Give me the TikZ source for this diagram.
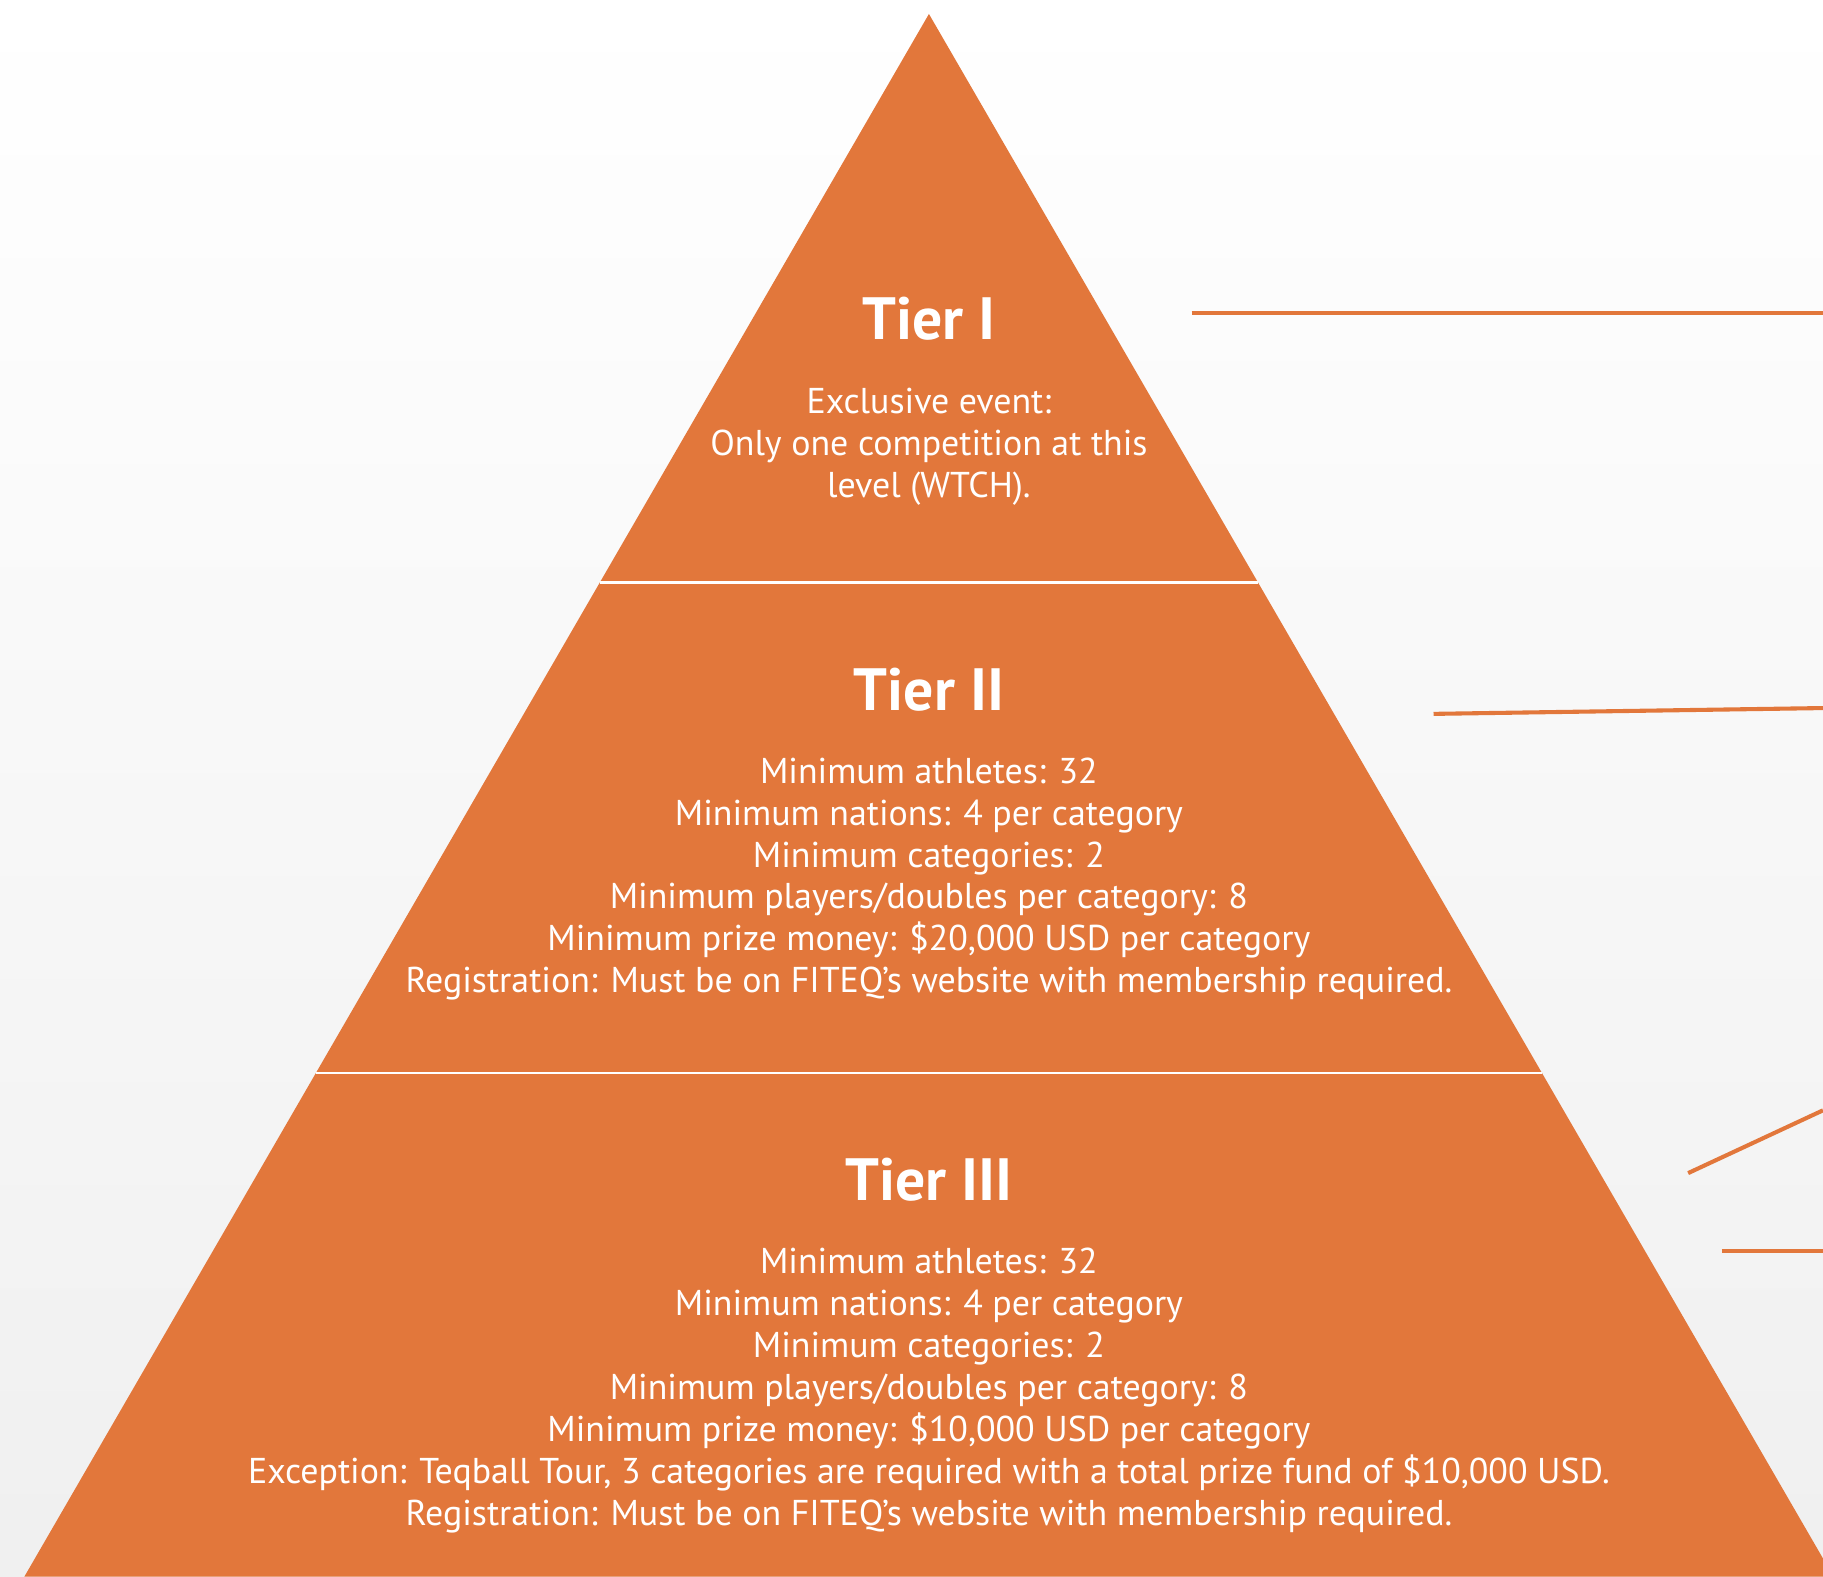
\documentclass[tikz,border=0pt]{standalone}
\usepackage{fontspec}
\setmainfont{PT Sans}
\definecolor{tierorange}{RGB}{226,119,59}
\tikzset{
  tiertitle/.style={text=white,font=\bfseries\fontsize{14.6}{17}\selectfont},
  tierbody/.style={text=white,align=center,font=\fontsize{8.78}{10.24}\selectfont},
  leader/.style={draw=tierorange,line width=1pt},
  divider/.style={draw=white,line width=0.6pt}
}
\begin{document}
\begin{tikzpicture}[x=0.01cm,y=-0.01cm]
  \useasboundingbox (0,0) rectangle (1568,1356);
  \shade[top color=white,middle color=white,bottom color=black!6] (0,0) rectangle (1568,1356);

  \begin{scope}
    \clip (0,0) rectangle (1568,1356);
    \fill[tierorange] (799,12) -- (1577,1356) -- (21,1356) -- cycle;

    \coordinate (l1a) at (1025,269);
    \coordinate (l1b) at (1568,269);
    \coordinate (l2a) at (1233,614);
    \coordinate (l2b) at (1568,609);
    \coordinate (l3a) at (1452,1009);
    \coordinate (l3b) at (1568,955);
    \coordinate (l4a) at (1481,1076);
    \coordinate (l4b) at (1568,1076);
    \draw[leader] (l1a) -- (l1b);
    \draw[leader] (l2a) -- (l2b);
    \draw[leader] (l3a) -- (l3b);
    \draw[leader] (l4a) -- (l4b);
  \end{scope}

  \draw[divider] (516,501) -- (1082,501);
  \draw[divider] (272,923) -- (1326,923);

  \node[tiertitle] (t1) at (799,274) {Tier I};
  \node[tierbody] (t1txt) at (799,384) {Exclusive event:\\Only one competition at this\\level (WTCH).};

  \node[tiertitle] (t2) at (799,593) {Tier II};
  \node[tierbody] (t2txt) at (799,756) {Minimum athletes: 32\\Minimum nations: 4 per category\\Minimum categories: 2\\Minimum players/doubles per category: 8\\Minimum prize money: \$20,000 USD per category\\Registration: Must be on FITEQ’s website with membership required.};

  \node[tiertitle] (t3) at (799,1015) {Tier III};
  \node[tierbody] (t3txt) at (799,1196) {Minimum athletes: 32\\Minimum nations: 4 per category\\Minimum categories: 2\\Minimum players/doubles per category: 8\\Minimum prize money: \$10,000 USD per category\\Exception: Teqball Tour, 3 categories are required with a total prize fund of \$10,000 USD.\\Registration: Must be on FITEQ’s website with membership required.};
\end{tikzpicture}
\end{document}
